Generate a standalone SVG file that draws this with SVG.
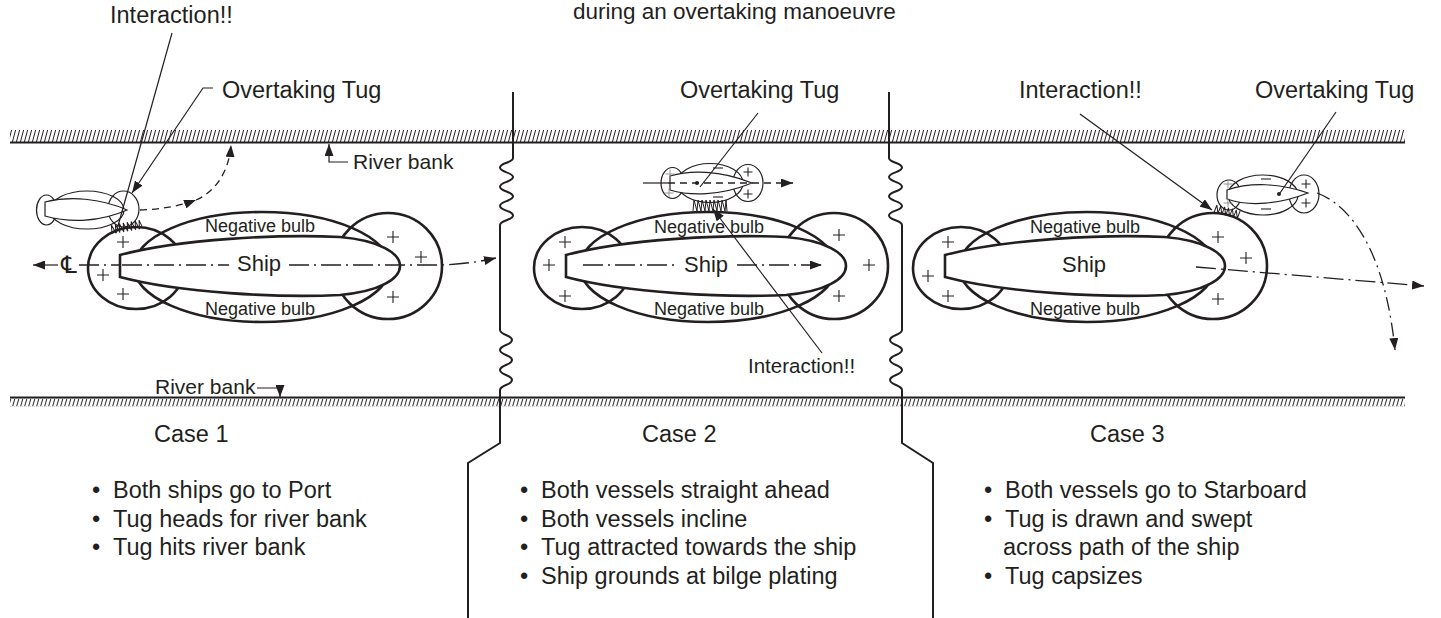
<svg xmlns="http://www.w3.org/2000/svg" width="1441" height="618" viewBox="0 0 1441 618">
<defs>
<style>
text{font-family:"Liberation Sans",Arial,Helvetica,sans-serif;fill:#231f20}
.lbl{font-size:23.5px}
.sm{font-size:18px}
.bank{fill:none;stroke:#231f20;stroke-width:2}
.div{fill:none;stroke:#231f20;stroke-width:2}
.bulb{fill:none;stroke:#231f20;stroke-width:2.6}
.hull{fill:#fff;stroke:#231f20;stroke-width:2.6}
.tug{fill:none;stroke:#231f20;stroke-width:1.2}
.tughull{fill:#fff;stroke:#231f20;stroke-width:1.2}
.lead{fill:none;stroke:#231f20;stroke-width:1.2}
.cl{fill:none;stroke:#231f20;stroke-width:1.3;stroke-dasharray:20 5 2 5}
.dash{fill:none;stroke:#231f20;stroke-width:1.3;stroke-dasharray:7 5}
.dd{fill:none;stroke:#231f20;stroke-width:1.3;stroke-dasharray:14 5 2 5}
.sign{fill:none;stroke:#231f20;stroke-width:1.1}
.faint{fill:none;stroke:#8a8a8a;stroke-width:0.9}
.zz{fill:none;stroke:#231f20;stroke-width:1}
</style>
<marker id="ah" viewBox="0 0 12 9" refX="12" refY="4.5" markerWidth="12" markerHeight="9" markerUnits="userSpaceOnUse" orient="auto"><path d="M0,0L12,4.5L0,9Z" fill="#231f20"/></marker>
<pattern id="hatchTop" x="0" y="130" width="4" height="12" patternUnits="userSpaceOnUse"><line x1="0.4" y1="12" x2="3.6" y2="0" stroke="#231f20" stroke-width="1"/></pattern>
<pattern id="hatchBot" x="0" y="398.5" width="4" height="8" patternUnits="userSpaceOnUse"><line x1="0.6" y1="8" x2="2.9" y2="0" stroke="#231f20" stroke-width="1"/></pattern>
<path id="plus" d="M-6,0H6M0,-6V6"/>
<path id="plusS" d="M-4.5,0H4.5M0,-4.5V4.5"/>
<path id="minus" d="M-5,0H5"/>
<!-- pressure field of the large ship: negative bulb, two positive bulbs, hull on top -->
<g id="shipShape">
<ellipse class="bulb" cx="262" cy="267" rx="128" ry="55"/>
<ellipse class="bulb" cx="136" cy="268" rx="48" ry="41"/>
<ellipse class="bulb" cx="388" cy="266" rx="54" ry="53"/>
<path class="hull" d="M120,255 C180,239 280,234 340,237 C420,244 420,288 340,295 C280,298 180,293 120,277 Z"/>
</g>
</defs>

<rect width="1441" height="618" fill="#fff"/>

<text x="573" y="19" font-size="22.5">during an overtaking manoeuvre</text>

<!-- river banks -->
<g id="banks">
<rect x="10" y="130" width="1395" height="12" fill="url(#hatchTop)"/>
<line class="bank" x1="10" y1="142.5" x2="1405" y2="142.5"/>
<line class="bank" x1="10" y1="397.5" x2="1405" y2="397.5"/>
<rect x="10" y="398.5" width="1395" height="8" fill="url(#hatchBot)"/>
</g>

<!-- break lines between the three cases -->
<g id="dividers">
<path class="div" d="M513,92 V158
C513,162.8 500,162.8 500,167.6 C500,172.4 513,172.4 513,177.1 C513,181.9 500,181.9 500,186.7 C500,191.5 513,191.5 513,196.3 C513,201.1 500,201.1 500,205.9 C500,210.6 513,210.6 513,215.4 C513,220.2 500,220.2 500,225
V330
C500,335 512,335 512,340 C512,345 500,345 500,350 C500,355 512,355 512,360 C512,365 500,365 500,370 C500,375 512,375 512,380 C512,385 500,385 500,390
V443 L468,463 V618"/>
<path class="div" d="M889,92 V158
C889,162.8 902,162.8 902,167.6 C902,172.4 889,172.4 889,177.1 C889,181.9 902,181.9 902,186.7 C902,191.5 889,191.5 889,196.3 C889,201.1 902,201.1 902,205.9 C902,210.6 889,210.6 889,215.4 C889,220.2 902,220.2 902,225
V330
C902,335 890,335 890,340 C890,345 902,345 902,350 C902,355 890,355 890,360 C890,365 902,365 902,370 C902,375 890,375 890,380 C890,385 902,385 902,390
V443 L933,463 V618"/>
</g>

<!-- Case 1 -->
<g id="case1-ship">
<use href="#shipShape"/>
<g class="sign">
<use href="#plus" x="123" y="242"/><use href="#plus" x="103" y="275"/><use href="#plus" x="123" y="294"/>
<use href="#plus" x="393" y="237"/><use href="#plus" x="421" y="257"/><use href="#plus" x="393" y="297"/>
</g>
<text class="sm" x="260" y="232" text-anchor="middle">Negative bulb</text>
<text class="sm" x="260" y="315" text-anchor="middle">Negative bulb</text>
<text x="259" y="271" font-size="22" text-anchor="middle">Ship</text>
<text x="69" y="273" font-size="24" text-anchor="middle" style="font-family:'DejaVu Sans',sans-serif">℄</text>
</g>
<g id="case1-tug">
<ellipse class="tug" cx="87" cy="210" rx="37" ry="19"/>
<ellipse class="tug" cx="46.5" cy="210" rx="10" ry="15"/>
<ellipse class="tug" cx="123.5" cy="209" rx="15.5" ry="18"/>
<path class="tughull" d="M45,202 C70,196 100,198 127,210 C100,222 70,223 45,216 Z"/>
<polyline class="zz" transform="translate(112,234) rotate(-10)" points="0,0 1,-9 4,0 5,-9 8,0 9,-9 12,0 13,-9 16,0 17,-9 20,0 21,-9 24,0 25,-9 28,0 29,-9 31,-2"/>
</g>
<g id="case1-text">
<text class="lbl" x="110" y="23">Interaction!!</text>
<text class="lbl" x="222" y="98">Overtaking Tug</text>
<text x="353" y="168.5" font-size="21">River bank</text>
<text x="155" y="394" font-size="21">River bank</text>
<text class="lbl" x="154" y="442">Case 1</text>
<text class="lbl" x="92" y="498">•</text><text class="lbl" x="113" y="498">Both ships go to Port</text>
<text class="lbl" x="92" y="526.5">•</text><text class="lbl" x="113" y="526.5">Tug heads for river bank</text>
<text class="lbl" x="92" y="555">•</text><text class="lbl" x="113" y="555">Tug hits river bank</text>
</g>

<!-- Case 2 -->
<g id="case2-ship">
<use href="#shipShape" transform="translate(446,0)"/>
<g class="sign">
<use href="#plus" x="565" y="242"/><use href="#plus" x="549" y="265"/><use href="#plus" x="565" y="296"/>
<use href="#plus" x="839" y="235"/><use href="#plus" x="869" y="265"/><use href="#plus" x="839" y="296"/>
</g>
<text class="sm" x="709" y="233" text-anchor="middle">Negative bulb</text>
<text class="sm" x="709" y="315" text-anchor="middle">Negative bulb</text>
<text x="706" y="272" font-size="22" text-anchor="middle">Ship</text>
</g>
<g id="case2-tug">
<ellipse class="tug" cx="710" cy="183" rx="33" ry="19.5"/>
<ellipse class="tug" cx="672.5" cy="183" rx="11.5" ry="15.5"/>
<ellipse class="tug" cx="748" cy="183" rx="15" ry="18.5"/>
<path class="tughull" d="M670,176 C690,170 720,170 752,183 C720,196 690,196 670,190 Z"/>
<g class="faint"><use href="#plusS" x="670" y="174"/><use href="#plusS" x="669" y="193"/></g>
<g class="sign"><use href="#plusS" x="748" y="172"/><use href="#plusS" x="748" y="194"/><use href="#minus" x="718" y="168"/><use href="#minus" x="718" y="197"/></g>
<circle cx="697" cy="183" r="2" fill="#231f20"/>
<polyline class="zz" points="693,211 694,200 697,211 698,200 701,211 702,200 705,211 706,200 709,211 710,200 713,211 714,200 717,211 718,200 721,211 722,200 725,211 726,200 727,211"/>
</g>
<g id="case2-text">
<text class="lbl" x="680" y="98">Overtaking Tug</text>
<text x="748" y="373" font-size="20.5">Interaction!!</text>
<text class="lbl" x="642" y="442">Case 2</text>
<text class="lbl" x="520" y="498">•</text><text class="lbl" x="541" y="498">Both vessels straight ahead</text>
<text class="lbl" x="520" y="526.5">•</text><text class="lbl" x="541" y="526.5">Both vessels incline</text>
<text class="lbl" x="520" y="555">•</text><text class="lbl" x="541" y="555">Tug attracted towards the ship</text>
<text class="lbl" x="520" y="583.5">•</text><text class="lbl" x="541" y="583.5">Ship grounds at bilge plating</text>
</g>

<!-- Case 3 -->
<g id="case3-ship">
<use href="#shipShape" transform="translate(825,0)"/>
<g class="sign">
<use href="#plus" x="948" y="242"/><use href="#plus" x="928" y="276"/><use href="#plus" x="948" y="296"/>
<use href="#plus" x="1218" y="237"/><use href="#plus" x="1246" y="258"/><use href="#plus" x="1218" y="299"/>
</g>
<text class="sm" x="1085" y="233" text-anchor="middle">Negative bulb</text>
<text class="sm" x="1085" y="315" text-anchor="middle">Negative bulb</text>
<text x="1084" y="272" font-size="22" text-anchor="middle">Ship</text>
</g>
<g id="case3-tug">
<ellipse class="tug" cx="1263" cy="195" rx="35" ry="20"/>
<ellipse class="tug" cx="1229" cy="195" rx="12" ry="15"/>
<ellipse class="tug" cx="1304" cy="194" rx="15" ry="19"/>
<path class="tughull" d="M1227,190 C1250,182 1280,183 1308,193 C1280,204 1250,207 1227,199 Z"/>
<g class="faint"><use href="#plusS" x="1228" y="184"/><use href="#plusS" x="1228" y="203"/></g>
<g class="sign"><use href="#plusS" x="1306" y="184"/><use href="#plusS" x="1306" y="203"/><use href="#minus" x="1266" y="179"/><use href="#minus" x="1266" y="209"/></g>
<circle cx="1279" cy="194" r="2" fill="#231f20"/>
<polyline class="zz" transform="translate(1214,212.5) rotate(14)" points="0,0 1,-8 4,0 5,-8 8,0 9,-8 12,0 13,-8 16,0 17,-8 20,0 21,-8 24,0 25,-8"/>
</g>
<g id="case3-text">
<text class="lbl" x="1019" y="98">Interaction!!</text>
<text class="lbl" x="1255" y="98">Overtaking Tug</text>
<text class="lbl" x="1090" y="442">Case 3</text>
<text class="lbl" x="984" y="498">•</text><text class="lbl" x="1005" y="498">Both vessels go to Starboard</text>
<text class="lbl" x="984" y="526.5">•</text><text class="lbl" x="1005" y="526.5">Tug is drawn and swept</text>
<text class="lbl" x="1003" y="555">across path of the ship</text>
<text class="lbl" x="984" y="583.5">•</text><text class="lbl" x="1005" y="583.5">Tug capsizes</text>
</g>

<!-- leaders, centrelines and tracks -->
<g id="connectors">
<!-- case 1 -->
<path class="lead" d="M172,33 L116,233"/>
<path class="lead" d="M213,88 H203 L132,193" marker-end="url(#ah)"/>
<path class="lead" d="M348,162 H329 V144" marker-end="url(#ah)"/>
<path class="lead" d="M257,388 H280 V397" marker-end="url(#ah)"/>
<path class="dash" d="M140,210 C160,209.5 180,206 196,200" marker-end="url(#ah)"/>
<path class="dash" d="M196,200 C215,192 229,172 231,145" marker-end="url(#ah)"/>
<path class="lead" d="M58,265 H33" marker-end="url(#ah)"/>
<path class="cl" d="M79,265 H120"/>
<path class="cl" d="M122,265 H229"/>
<path class="cl" d="M289,265 H440 Q470,264 496,258" marker-end="url(#ah)"/>
<!-- case 2 -->
<path class="lead" d="M758,113 L700,187"/>
<path class="lead" d="M822,353 L713,209" marker-end="url(#ah)"/>
<path class="lead" d="M643,183 H668"/>
<path class="dash" d="M668,183 H793" marker-end="url(#ah)"/>
<path class="cl" d="M583,265 H674"/>
<path class="cl" d="M737,265 H822" marker-end="url(#ah)"/>
<!-- case 3 -->
<path class="lead" d="M1080,114 L1212,210" marker-end="url(#ah)"/>
<path class="lead" d="M1336,112 L1280,193"/>
<path class="cl" d="M1196,267 L1424,286" marker-end="url(#ah)"/>
<path class="dd" d="M1317,193 C1350,205 1385,250 1395,350" marker-end="url(#ah)"/>
</g>
</svg>
